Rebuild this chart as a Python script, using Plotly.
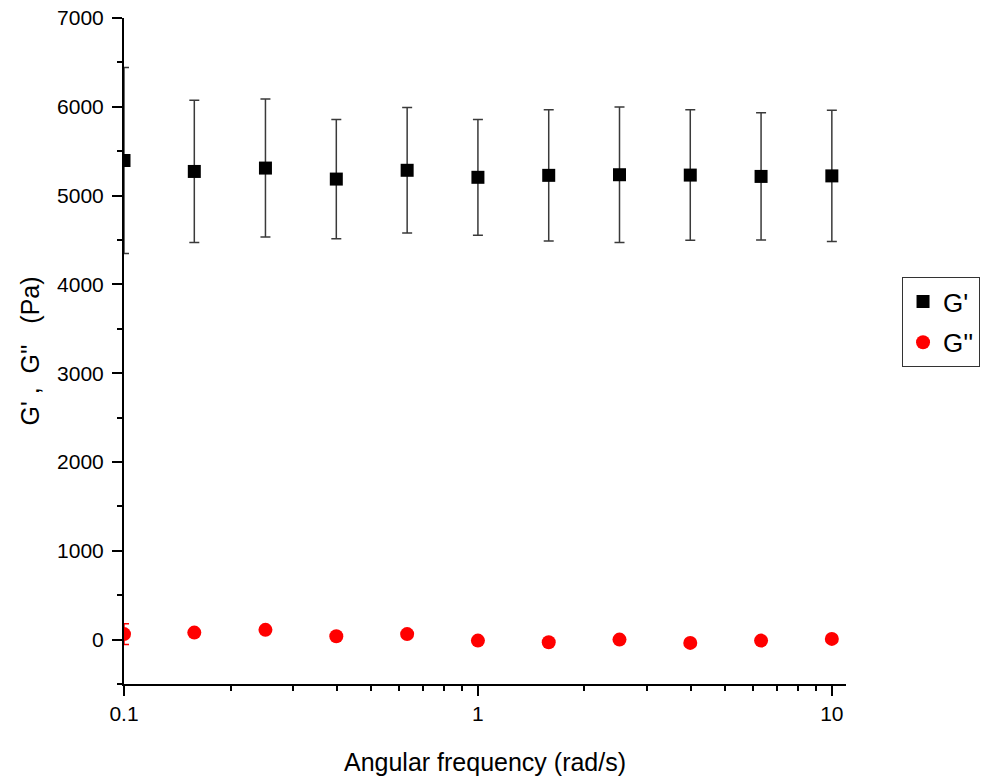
import plotly.graph_objects as go

freq = [0.1, 0.158, 0.251, 0.398, 0.631, 1.0, 1.585, 2.512, 3.981, 6.31, 10.0]
g_storage = [5395, 5272, 5310, 5186, 5285, 5206, 5228, 5235, 5231, 5216, 5222]
g_storage_err = [1047, 801, 777, 671, 707, 652, 740, 763, 735, 716, 740]
g_loss = [62, 79, 110, 37, 62, -11, -30, 0, -37, -11, 8]
g_loss_err = [117, 30, 30, 30, 30, 30, 30, 30, 30, 30, 30]

font_family = "Liberation Sans, Arial, sans-serif"

fig = go.Figure()
fig.add_trace(go.Scatter(
    x=freq, y=g_storage, mode="markers", name="G'", legendgroup="a",
    marker=dict(symbol="square", size=13, color="black"),
    error_y=dict(type="data", array=g_storage_err, visible=True,
                 color="#3a3a3a", thickness=1.5, width=5),
))
fig.add_trace(go.Scatter(
    x=freq, y=g_loss, mode="markers", name="G''", legendgroup="b",
    marker=dict(symbol="circle", size=14, color="#ff0000"),
    error_y=dict(type="data", array=g_loss_err, visible=True,
                 color="#ff0000", thickness=1.5, width=5),
))

fig.update_layout(
    width=1000, height=782,
    margin=dict(l=124, r=154, t=18, b=98),
    paper_bgcolor="white", plot_bgcolor="white",
    font=dict(family=font_family, size=21, color="black"),
    showlegend=True,
    legend=dict(x=1.0776, y=0.611, xanchor="left", yanchor="top",
                bordercolor="#333333", borderwidth=1,
                font=dict(size=26, color="black"),
                itemsizing="trace", tracegroupgap=4),
)
fig.update_xaxes(
    type="log", range=[-1, 1.04], automargin=False,
    tickvals=[0.1, 1, 10], ticktext=["0.1", "1", "10"],
    ticks="outside", ticklen=10, tickwidth=2, tickcolor="black",
    minor=dict(ticks="outside", ticklen=5, tickwidth=2, tickcolor="black",
               tickvals=[0.2, 0.3, 0.4, 0.5, 0.6, 0.7, 0.8, 0.9,
                         2, 3, 4, 5, 6, 7, 8, 9], showgrid=False),
    showline=True, linecolor="black", linewidth=2,
    showgrid=False, zeroline=False,
    title=dict(text="Angular frequency (rad/s)", font=dict(size=25), standoff=29),
    tickfont=dict(size=21),
)
fig.update_yaxes(
    range=[-500, 7000], tick0=0, dtick=1000, automargin=False,
    ticks="outside", ticklen=10, tickwidth=2, tickcolor="black",
    minor=dict(ticks="outside", ticklen=5, tickwidth=2, tickcolor="black",
               dtick=500, tick0=0, showgrid=False),
    showline=True, linecolor="black", linewidth=2,
    showgrid=False, zeroline=False,
    title=dict(text="G' ,  G''   (Pa)", font=dict(size=25), standoff=10),
    tickfont=dict(size=21),
    ticklabelstandoff=4,
)

fig.write_html("out.html", config={"displayModeBar": False},
               post_script="document.body.style.margin='0px';")
